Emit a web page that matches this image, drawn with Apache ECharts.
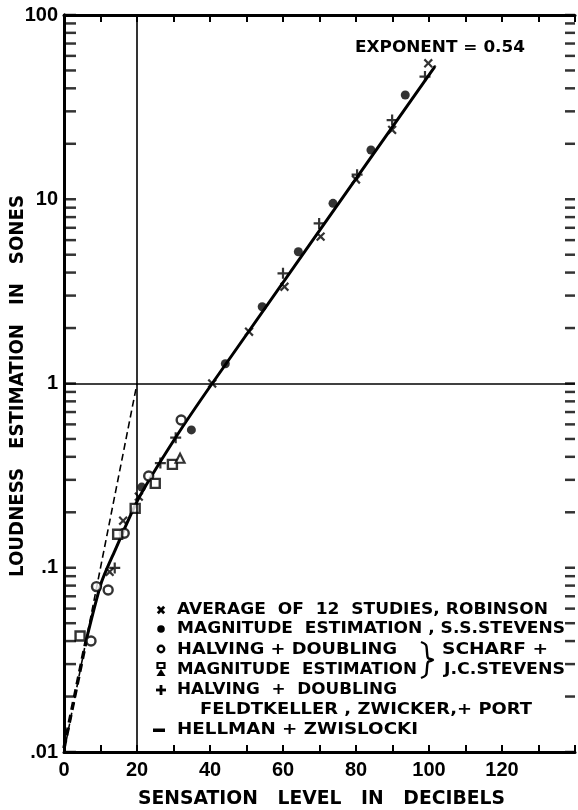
<!DOCTYPE html>
<html>
<head>
<meta charset="utf-8">
<script src="https://cdn.jsdelivr.net/npm/echarts@6/dist/echarts.min.js"></script>
<style>
  html, body { margin: 0; padding: 0; background: #fff; }
  #chart { width: 578px; height: 810px; }
</style>
</head>
<body>
<div id="chart"></div>
<script>
// Loudness estimation (sones) against sensation level (dB), log-linear plot.

// Axis tick labels
const xTickLabels = [0, 20, 40, 60, 80, 100, 120];
const yTickValues = [0.01, 0.1, 1, 10, 100];
const yTickTexts = ['.01', '.1', '1', '10', '100'];

// × Average of 12 studies, Robinson
const robinsonX = [12.5, 16.2, 20.5, 40.6, 50.7, 60.4, 70.3, 80.0, 89.9, 99.8];
const robinsonY = [0.095, 0.18, 0.243, 1.0, 1.91, 3.35, 6.27, 12.8, 23.8, 54.7];

// • Magnitude estimation, S.S. Stevens
const ssStevensX = [21.3, 34.9, 44.2, 54.3, 64.2, 73.7, 84.1, 93.5];
const ssStevensY = [0.274, 0.56, 1.28, 2.61, 5.19, 9.5, 18.5, 36.8];

// o Halving + doubling, Scharf + J.C. Stevens
const scharfHalvingX = [7.4, 8.9, 12.1, 16.5, 23.2, 32.1];
const scharfHalvingY = [0.040, 0.079, 0.0757, 0.154, 0.315, 0.634];

// Magnitude estimation, Scharf + J.C. Stevens (squares and triangles)
const scharfMagX = [4.4, 14.7, 19.5, 25.0, 29.7];
const scharfMagY = [0.0426, 0.152, 0.210, 0.287, 0.364];
const scharfMagTriX = [31.8];
const scharfMagTriY = [0.393];

// + Halving + doubling, Feldtkeller, Zwicker + Port
const feldtkellerX = [13.9, 26.4, 30.6, 60.0, 69.9, 80.3, 89.9, 98.9];
const feldtkellerY = [0.0998, 0.37, 0.508, 3.96, 7.39, 13.6, 26.9, 46.3];

// — Hellman + Zwislocki
const hellmanX = [0, 6.1];
const hellmanY = [0.0105, 0.0405];

// Fitted loudness function (exponent 0.54 above ~40 dB)
const fitX = [6.1, 10.2, 13.8, 20.5, 30.5, 40.6, 101.6];
const fitY = [0.0405, 0.0826, 0.122, 0.239, 0.506, 1.0, 52.4];

// Reference slope through (0, .01) and (20, 1)
const unitSlopeX = [0, 20];
const unitSlopeY = [0.01, 1];

const zip = (xs, ys) => xs.map((x, i) => [x, ys[i]]);

// frame tick positions on the log axis: 1..9 × 10^k
const yFrameTicks = [];
for (let k = -2; k <= 1; k++) {
  for (let m = 1; m <= 9; m++) yFrameTicks.push(+(m * Math.pow(10, k)).toPrecision(3));
}
yFrameTicks.push(100);

const X_MIN = 0, X_MAX = 140;
const PLUS = 'path://M4,0H6V4H10V6H6V10H4V6H0V4H4Z';
const INK = '#000';

const measureCtx = document.createElement('canvas').getContext('2d');
function stretchedText(str, left, right, y, size, family) {
  const font = 'bold ' + size + 'px ' + (family || '"DejaVu Sans"');
  measureCtx.font = font;
  const w = measureCtx.measureText(str).width;
  return {
    type: 'text', x: left, y: y, scaleX: (right - left) / w,
    style: { text: str, font: font, fill: INK, align: 'left', verticalAlign: 'middle',
             textAlign: 'left', textVerticalAlign: 'middle' }
  };
}
function rotatedText(str, cx, top, bottom, size) {
  const font = 'bold ' + size + 'px "DejaVu Sans"';
  measureCtx.font = font;
  const w = measureCtx.measureText(str).width;
  return {
    type: 'text', x: cx, y: (top + bottom) / 2, rotation: Math.PI / 2, scaleX: (bottom - top) / w,
    style: { text: str, font: font, fill: INK, align: 'center', verticalAlign: 'middle',
             textAlign: 'center', textVerticalAlign: 'middle' }
  };
}
function crossGlyph(cx, cy, r, rotate) {
  const a = rotate ? Math.SQRT1_2 * r : r;
  const lines = rotate
    ? [[cx - a, cy - a, cx + a, cy + a], [cx - a, cy + a, cx + a, cy - a]]
    : [[cx - a, cy, cx + a, cy], [cx, cy - a, cx, cy + a]];
  return lines.map(l => ({ type: 'line', shape: { x1: l[0], y1: l[1], x2: l[2], y2: l[3] },
                           style: { stroke: INK, lineWidth: 2.8 } }));
}

const chart = echarts.init(document.getElementById('chart'), null, { renderer: 'canvas' });

const legendSymX = 161;
const legendText = [
  ['AVERAGE  OF  12  STUDIES, ROBINSON', 177, 548, 610],
  ['MAGNITUDE  ESTIMATION , S.S.STEVENS', 177, 565, 629],
  ['HALVING + DOUBLING', 177, 397, 650],
  ['MAGNITUDE  ESTIMATION', 177, 417, 670],
  ['SCHARF +', 442, 548, 650],
  ['J.C.STEVENS', 444, 565, 670],
  ['HALVING  +  DOUBLING', 177, 397, 690],
  ['FELDTKELLER , ZWICKER,+ PORT', 200, 532, 710],
  ['HELLMAN + ZWISLOCKI', 177, 418, 730]
];

const graphics = [];
legendText.forEach(t => graphics.push(stretchedText(t[0], t[1], t[2], t[3], 15)));
// legend glyphs
graphics.push(...crossGlyph(legendSymX, 610, 4.5, true));
graphics.push({ type: 'circle', shape: { cx: legendSymX, cy: 629, r: 3.8 }, style: { fill: INK } });
graphics.push({ type: 'circle', shape: { cx: legendSymX, cy: 649, r: 3.2 }, style: { fill: '#fff', stroke: INK, lineWidth: 2.4 } });
graphics.push({ type: 'rect', shape: { x: legendSymX - 3.5, y: 663, width: 7, height: 5 }, style: { fill: '#fff', stroke: INK, lineWidth: 2.2 } });
graphics.push({ type: 'polygon', shape: { points: [[legendSymX, 669], [legendSymX - 4.5, 676], [legendSymX + 4.5, 676]] }, style: { fill: INK } });
graphics.push(...crossGlyph(legendSymX, 690, 5, false));
graphics.push({ type: 'rect', shape: { x: 153, y: 728.5, width: 12, height: 3.5 }, style: { fill: INK } });
// brace grouping the Scharf + J.C. Stevens entries
graphics.push({
  type: 'polyline',
  shape: {
    points: [[421, 642], [426, 645], [427, 652], [428, 658], [433, 660], [428, 662], [427, 668], [426, 675], [421, 678]],
    smooth: 0.3
  },
  style: { fill: null, stroke: INK, lineWidth: 2.4 }
});
// annotation and axis titles
graphics.push(stretchedText('EXPONENT = 0.54', 355, 525, 48, 15));
graphics.push(stretchedText('SENSATION   LEVEL   IN   DECIBELS', 138, 505, 799, 19));
graphics.push(rotatedText('LOUDNESS   ESTIMATION   IN   SONES', 17.5, 195, 577, 20));

const labelFont = { fontFamily: '"Liberation Sans"', fontWeight: 'bold', fontSize: 20, color: INK };

const option = {
  backgroundColor: '#fff',
  animation: false,
  grid: { left: 64, top: 15, width: 518, height: 737 },
  xAxis: [
    {
      type: 'value', min: X_MIN, max: X_MAX, interval: 10, position: 'bottom',
      axisLine: { onZero: false, lineStyle: { color: INK, width: 3 } },
      axisTick: { inside: true, length: 7, lineStyle: { color: INK, width: 2 } },
      splitLine: { show: false },
      axisLabel: Object.assign({ margin: 8,
        formatter: v => xTickLabels.indexOf(v) >= 0 ? String(v) : '' }, labelFont)
    },
    {
      type: 'value', min: X_MIN, max: X_MAX, interval: 10, position: 'top',
      axisLine: { onZero: false, lineStyle: { color: INK, width: 3 } },
      axisTick: { inside: true, length: 7, lineStyle: { color: INK, width: 2 } },
      splitLine: { show: false }, axisLabel: { show: false }
    }
  ],
  yAxis: [
    {
      type: 'log', logBase: 10, min: 0.01, max: 100, position: 'left',
      axisLine: { lineStyle: { color: INK, width: 3 } },
      axisTick: { show: false }, splitLine: { show: false }, minorTick: { show: false },
      axisLabel: Object.assign({ margin: 6,
        formatter: v => {
          const i = yTickValues.findIndex(t => Math.abs(Math.log10(t) - Math.log10(v)) < 1e-6);
          return i >= 0 ? yTickTexts[i] : '';
        } }, labelFont)
    },
    {
      type: 'log', logBase: 10, min: 0.01, max: 100, position: 'right',
      axisLine: { lineStyle: { color: INK, width: 3 } },
      axisTick: { show: false }, splitLine: { show: false }, axisLabel: { show: false }
    }
  ],
  graphic: graphics,
  series: [
    {
      // inward tick marks along the left frame
      name: 'left frame ticks', type: 'scatter', silent: true, clip: false, z: 4,
      data: yFrameTicks.map(v => [X_MIN, v]),
      symbol: 'rect', symbolSize: [12, 2.5], symbolOffset: [6, 0],
      itemStyle: { color: INK }
    },
    {
      // inward tick marks along the right frame
      name: 'right frame ticks', type: 'scatter', silent: true, clip: false, z: 4,
      data: yFrameTicks.map(v => [X_MAX, v]),
      symbol: 'rect', symbolSize: [10, 2.5], symbolOffset: [-5, 0],
      itemStyle: { color: INK }
    },
    {
      name: 'fit', type: 'line', data: zip(fitX, fitY), smooth: 0.25, showSymbol: false, silent: true, z: 2,
      lineStyle: { color: INK, width: 3 },
      markLine: {
        silent: true, symbol: 'none', label: { show: false },
        lineStyle: { color: INK, width: 1.6, type: 'solid' },
        data: [{ xAxis: 20 }, { yAxis: 1 }]
      }
    },
    {
      name: 'unit slope', type: 'line', data: zip(unitSlopeX, unitSlopeY), showSymbol: false, silent: true, z: 2,
      lineStyle: { color: INK, width: 1.6, type: [7, 4] }
    },
    {
      name: 'Hellman + Zwislocki', type: 'line', data: zip(hellmanX, hellmanY), showSymbol: false, silent: true, z: 2,
      lineStyle: { color: INK, width: 3.5, type: [8, 5] }
    },
    {
      name: 'Robinson', type: 'scatter', data: zip(robinsonX, robinsonY), z: 3,
      symbol: PLUS, symbolSize: 11, symbolRotate: 45, itemStyle: { color: INK }
    },
    {
      name: 'S.S. Stevens', type: 'scatter', data: zip(ssStevensX, ssStevensY), z: 3,
      symbol: 'circle', symbolSize: 9, itemStyle: { color: INK }
    },
    {
      name: 'Scharf halving', type: 'scatter', data: zip(scharfHalvingX, scharfHalvingY), z: 3,
      symbol: 'circle', symbolSize: 9, itemStyle: { color: '#fff', borderColor: INK, borderWidth: 2.4 }
    },
    {
      name: 'Scharf magnitude', type: 'scatter', data: zip(scharfMagX, scharfMagY), z: 3,
      symbol: 'rect', symbolSize: 9, itemStyle: { color: '#fff', borderColor: INK, borderWidth: 2.4 }
    },
    {
      name: 'Scharf magnitude (tri)', type: 'scatter', data: zip(scharfMagTriX, scharfMagTriY), z: 3,
      symbol: 'triangle', symbolSize: 9, itemStyle: { color: '#fff', borderColor: INK, borderWidth: 2.2 }
    },
    {
      name: 'Feldtkeller', type: 'scatter', data: zip(feldtkellerX, feldtkellerY), z: 3,
      symbol: PLUS, symbolSize: 11, itemStyle: { color: INK }
    }
  ]
};

chart.setOption(option);
</script>
</body>
</html>
